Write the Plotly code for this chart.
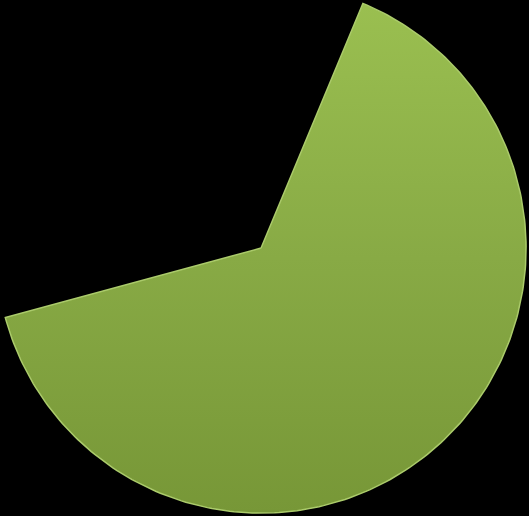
"""
Single visible pie slice on a black background, with the vertical light-to-dark
shading of the original bevelled wedge.
"""

import numpy as np
import plotly.graph_objects as go

# ------------------------------------------------------------------
# Data
# ------------------------------------------------------------------
categories = ["Series A", "Series B"]
values = [64.5, 35.5]
start_angle = 22.6  # degrees, clockwise from 12 o'clock
visible = [True, False]  # the second slice is drawn without fill

# ------------------------------------------------------------------
# Style
# ------------------------------------------------------------------
LIGHT = "#9abf50"
MID = "#88aa45"
DARK = "#779737"
EDGE = "#abcb6b"

fig = go.Figure()

total = sum(values)
angle = start_angle
for name, value, show in zip(categories, values, visible):
    span = 360.0 * value / total
    if show:
        theta = np.radians(np.linspace(angle, angle + span, 240))
        xs = np.concatenate([[0.0], np.sin(theta), [0.0]])
        ys = np.concatenate([[0.0], np.cos(theta), [0.0]])
        fig.add_trace(
            go.Scatter(
                x=xs,
                y=ys,
                mode="lines",
                fill="toself",
                fillgradient=dict(
                    type="vertical",
                    colorscale=[[0.0, DARK], [0.5, MID], [1.0, LIGHT]],
                ),
                line=dict(color=EDGE, width=1.5),
                name=name,
                hovertemplate=f"{name}: {value}<extra></extra>",
            )
        )
    angle += span

fig.update_layout(
    autosize=True,
    margin=dict(l=0, r=0, t=0, b=0),
    paper_bgcolor="black",
    plot_bgcolor="black",
    showlegend=False,
    xaxis=dict(range=[-0.985, 1.011], visible=False, fixedrange=True),
    yaxis=dict(range=[-1.011, 0.936], visible=False, fixedrange=True),
)

# the page's default body margin would leave a white frame round the plot
fix_page = """
document.documentElement.style.height = '100%';
document.body.style.margin = '0';
document.body.style.height = '100%';
document.body.style.background = 'black';
Plotly.Plots.resize(document.getElementById('{plot_id}'));
"""

fig.write_html(
    "out.html",
    config={"responsive": True, "displayModeBar": False},
    post_script=fix_page,
)
